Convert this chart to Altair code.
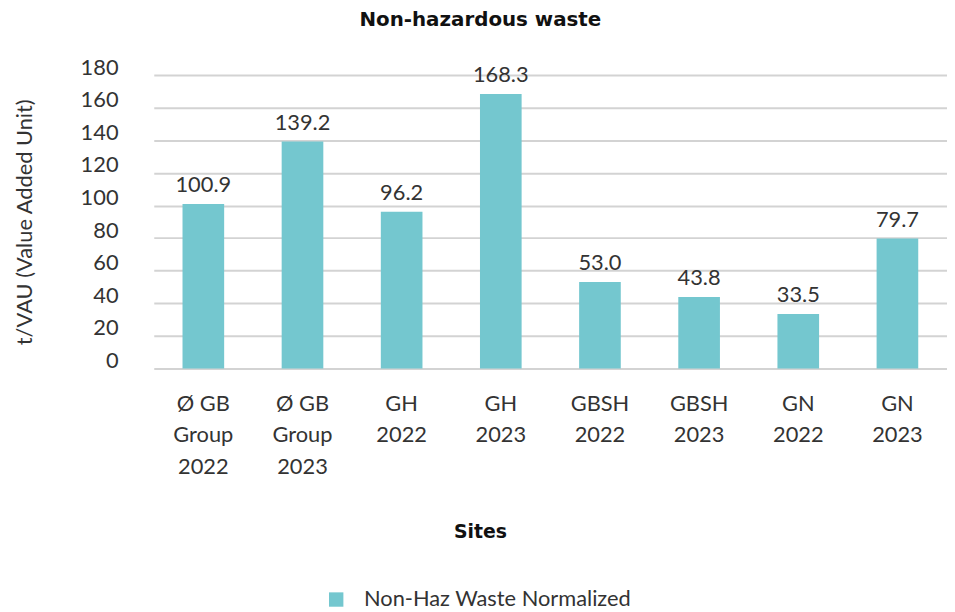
import altair as alt
import pandas as pd

# ---- data ----
sites = ["Ø GB|Group|2022", "Ø GB|Group|2023", "GH|2022", "GH|2023",
         "GBSH|2022", "GBSH|2023", "GN|2022", "GN|2023"]
values = [100.9, 139.2, 96.2, 168.3, 53.0, 43.8, 33.5, 79.7]
series_name = "Non-Haz Waste Normalized"
y_ticks = [0, 20, 40, 60, 80, 100, 120, 140, 160, 180]

df = pd.DataFrame({"site": sites, "value": values, "series": series_name})
df["label"] = df["value"].map(lambda v: f"{v:.1f}")

FONT = "Lato"
BOLD_FONT = "DejaVu Sans"
TXT = "#333333"
BAR = "#74C7CF"
GRID = "#d3d3d3"

x_enc = alt.X(
    "site:N", sort=None, title="Sites",
    scale=alt.Scale(paddingInner=0.58, paddingOuter=0.29),
    axis=alt.Axis(
        labelExpr="split(datum.label, '|')", labelAngle=0,
        labelFont=FONT, labelFontSize=22, labelColor=TXT, labelLineHeight=32,
        labelPadding=25, labelBaseline="top", ticks=False, domain=False,
        labelOverlap=False, labelLimit=0,
        titleFont=BOLD_FONT, titleFontSize=19, titleFontWeight="bold", titleColor="#111111",
        titleX=329, titleY=164, titleAlign="center", titleBaseline="middle",
    ),
)
y_enc = alt.Y(
    "value:Q", title="t/VAU (Value Added Unit)",
    scale=alt.Scale(domain=[0, 180], nice=False),
    axis=alt.Axis(
        values=y_ticks, tickCount=10, grid=True, gridColor=GRID, gridWidth=2,
        domain=False, ticks=False,
        labelOverlap=False, labelFlush=False, labelBound=False,
        labelFont=FONT, labelFontSize=22, labelColor=TXT, labelOffset=-8, labelPadding=36,
        titleFont=FONT, titleFontSize=22, titleFontWeight="normal", titleColor=TXT,
        titlePadding=44,
    ),
)

bars = alt.Chart(df).mark_bar(size=42).encode(
    x=x_enc, y=y_enc,
    color=alt.Color(
        "series:N", scale=alt.Scale(range=[BAR]),
        legend=alt.Legend(
            orient="none", legendX=173, legendY=518, title=None,
            symbolType="square", symbolSize=210, symbolStrokeWidth=0,
            labelFont=FONT, labelFontSize=22, labelColor=TXT, labelOffset=17,
            labelLimit=0,
        ),
    ),
)

labels = alt.Chart(df).mark_text(
    baseline="bottom", dy=-7, font=FONT, fontSize=22, color=TXT
).encode(x=x_enc, y=y_enc, text="label:N")

chart = (
    alt.layer(bars, labels)
    .properties(
        width=800, height=296,
        padding={"left": 5, "top": 0, "right": 0, "bottom": 0},
        title=alt.TitleParams(
            "Non-hazardous waste", font=BOLD_FONT, fontSize=20, fontWeight="bold",
            color="#111111", anchor="middle", frame="bounds", offset=26,
        ),
    )
    .configure_view(stroke=None)
)

chart.save("out.html", embed_options={"renderer": "svg", "actions": False})
